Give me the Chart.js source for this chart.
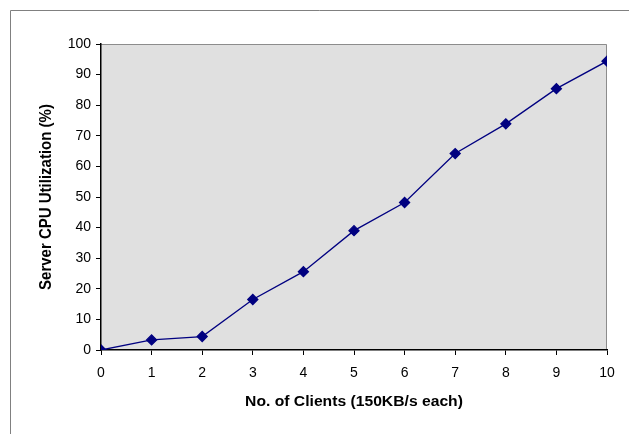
<!DOCTYPE html>
<html>
<head>
<meta charset="utf-8">
<script src="https://cdn.jsdelivr.net/npm/chart.js@4/dist/chart.umd.min.js"></script>
<style>
  html, body { margin: 0; padding: 0; background: #fff; }
  #wrap { width: 629px; height: 434px; }
</style>
</head>
<body>
<div id="wrap"><canvas id="myChart" width="629" height="434"></canvas></div>
<script>
/* globals Chart */

const clients = [0, 1, 2, 3, 4, 5, 6, 7, 8, 9, 10];
const cpuUtil = [0, 3.3, 4.4, 16.5, 25.6, 39, 48.2, 64.2, 73.9, 85.4, 94.4];
const yTicks = [0, 10, 20, 30, 40, 50, 60, 70, 80, 90, 100];

const font = "'Liberation Sans', Arial, sans-serif";

// plot background, gray top/right edges, outer frame, axis titles
const frame = {
  id: "frame",
  beforeDraw(chart) {
    const { ctx, chartArea: a } = chart;
    ctx.save();
    ctx.strokeStyle = "#808080";
    ctx.lineWidth = 1;
    ctx.beginPath();
    ctx.moveTo(10.5, 434);
    ctx.lineTo(10.5, 10.5);
    ctx.lineTo(629, 10.5);
    ctx.stroke();
    ctx.fillStyle = "#e0e0e0";
    ctx.fillRect(a.left, a.top, a.right - a.left, a.bottom - a.top);
    ctx.strokeStyle = "#8c8c8c";
    ctx.beginPath();
    ctx.moveTo(a.left, a.top + 0.5);
    ctx.lineTo(a.right - 0.5, a.top + 0.5);
    ctx.lineTo(a.right - 0.5, a.bottom);
    ctx.stroke();
    ctx.restore();
  },
  afterDraw(chart) {
    const { ctx, chartArea: a } = chart;
    ctx.save();
    ctx.fillStyle = "#000";
    ctx.textAlign = "center";
    ctx.textBaseline = "middle";
    // x title, slightly widened like the source
    ctx.font = "bold 14px " + font;
    ctx.save();
    ctx.translate((a.left + a.right) / 2, 402);
    ctx.scale(1.12, 1);
    ctx.fillText("No. of Clients (150KB/s each)", 0, 0);
    ctx.restore();
    // y title
    ctx.font = "bold 15px " + font;
    ctx.translate(46, (a.top + a.bottom) / 2);
    ctx.rotate(-Math.PI / 2);
    ctx.scale(1, 1.1);
    ctx.fillText("Server CPU Utilization (%)", 0, 0);
    ctx.restore();
  },
};

new Chart(document.getElementById("myChart").getContext("2d"), {
  type: "line",
  data: {
    datasets: [
      {
        data: clients.map((c, i) => ({ x: c, y: cpuUtil[i] })),
        borderColor: "#000080",
        backgroundColor: "#000080",
        borderWidth: 1.3,
        pointStyle: "rectRot",
        pointRadius: 5,
        pointHoverRadius: 5,
        tension: 0,
      },
    ],
  },
  plugins: [frame],
  options: {
    responsive: false,
    animation: false,
    events: [],
    layout: { padding: { left: 0, top: 44, right: 22, bottom: 0 } },
    scales: {
      x: {
        type: "linear",
        min: 0,
        max: 10,
        afterFit: (s) => { s.height = 84; },
        afterBuildTicks: (s) => { s.ticks = clients.map((v) => ({ value: v })); },
        border: { color: "#000", width: 1.5 },
        grid: { drawOnChartArea: false, color: "#000", tickLength: 5 },
        ticks: { color: "#000", padding: 10, font: { family: font, size: 14 } },
      },
      y: {
        min: 0,
        max: 100,
        afterFit: (s) => { s.width = 101; },
        afterBuildTicks: (s) => { s.ticks = yTicks.map((v) => ({ value: v })); },
        border: { color: "#000", width: 1.5 },
        grid: { drawOnChartArea: false, color: "#000", tickLength: 5 },
        ticks: { color: "#000", padding: 5, font: { family: font, size: 14 } },
      },
    },
    plugins: {
      legend: { display: false },
      title: { display: false },
      tooltip: { enabled: false },
    },
  },
});
</script>
</body>
</html>
